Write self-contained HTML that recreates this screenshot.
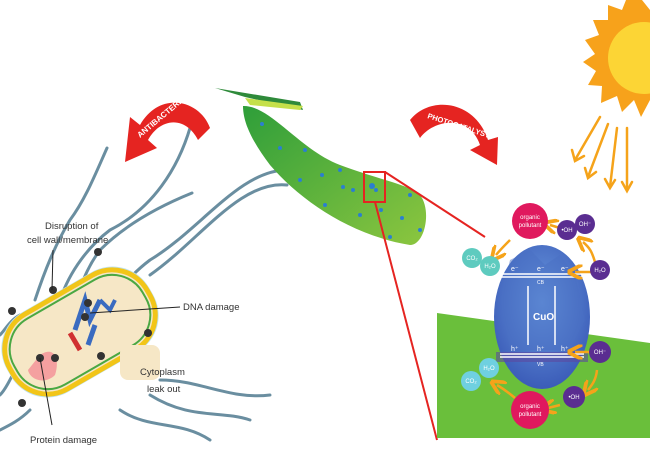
<!DOCTYPE html>
<html><head><meta charset="utf-8"><style>
html,body{margin:0;padding:0;background:#fff;}
svg{display:block;font-family:"Liberation Sans",sans-serif;}
</style></head><body>
<svg width="650" height="450" viewBox="0 0 650 450" xmlns="http://www.w3.org/2000/svg">
<defs>
<linearGradient id="fib" x1="0" y1="0" x2="1" y2="1">
<stop offset="0" stop-color="#2e9e3a"/><stop offset="1" stop-color="#8cc63f"/></linearGradient>
<radialGradient id="cuo" cx="0.5" cy="0.4" r="0.6">
<stop offset="0" stop-color="#6b9be0"/><stop offset="1" stop-color="#3b5cb8"/></radialGradient>
<marker id="oa" markerWidth="6" markerHeight="6" refX="3" refY="3" orient="auto"><path d="M0,0 L6,3 L0,6" fill="none" stroke="#f5a31a" stroke-width="1.5"/></marker>
</defs>
<!-- flagella -->
<g fill="none" stroke="#6a8ea0" stroke-width="3" stroke-linecap="round">
<path d="M107,148 C95,175 85,200 70,220 C55,245 45,270 35,300"/>
<path d="M193,117 C180,170 150,210 110,230 C90,245 70,270 60,300"/>
<path d="M192,193 C150,210 120,230 100,250 C85,270 80,290 75,300"/>
<path d="M287,170 C240,170 200,230 150,260 C130,275 120,290 110,300"/>
<path d="M287,185 C240,180 200,240 150,275"/>
<path d="M160,380 C200,380 230,400 270,395"/>
<path d="M150,395 C190,420 220,410 250,420"/>
<path d="M120,410 C150,430 180,420 210,440"/>
<path d="M30,410 C20,420 10,425 0,430"/>
<path d="M15,370 C10,380 5,390 0,395"/>
<path d="M20,315 C10,320 5,330 0,335"/>
</g>
<!-- bacterium -->
<g transform="translate(80,332) rotate(-30)">
<rect x="-82" y="-46" width="164" height="92" rx="42" fill="#bfe3f0"/>
<rect x="-79" y="-43" width="158" height="86" rx="40" fill="#f6e7c6" stroke="#f2c518" stroke-width="5"/>
<rect x="-74" y="-38" width="148" height="76" rx="35" fill="none" stroke="#4aa843" stroke-width="2"/>
</g>
<path d="M40,355 C55,345 60,360 55,375 C45,385 30,380 28,370 Z" fill="#f4a0a0"/>
<path d="M75,330 L85,300 L90,320 L100,300 M88,345 L95,325" stroke="#3a6bc0" stroke-width="5" fill="none"/>
<path d="M70,333 L80,350" stroke="#d03030" stroke-width="5"/>
<path d="M100,300 L110,310 L115,300" stroke="#3a6bc0" stroke-width="4" fill="none"/>
<rect x="120" y="345" width="40" height="35" rx="8" fill="#f6e7c6"/>
<g fill="#333">
<circle cx="53" cy="290" r="4"/><circle cx="88" cy="303" r="4"/><circle cx="85" cy="317" r="4"/><circle cx="40" cy="358" r="4"/><circle cx="55" cy="358" r="4"/><circle cx="101" cy="356" r="4"/><circle cx="98" cy="252" r="4"/><circle cx="12" cy="311" r="4"/><circle cx="148" cy="333" r="4"/><circle cx="22" cy="403" r="4"/>
</g>
<g stroke="#222" stroke-width="1" fill="none">
<line x1="53" y1="250" x2="52" y2="290"/><line x1="90" y1="313" x2="180" y2="307"/><line x1="40" y1="358" x2="52" y2="425"/>
</g>
<g font-size="9.5" fill="#333">
<text x="45" y="229">Disruption of</text>
<text x="27" y="243">cell wall/membrane</text>
<text x="183" y="310">DNA damage</text>
<text x="140" y="375">Cytoplasm</text>
<text x="147" y="392">leak out</text>
<text x="30" y="443">Protein damage</text>
</g>
<!-- antibacterial arrow -->
<path d="M210,128 C200,100 160,90 140,125 L130,117 L125,162 L157,148 L148,140 C160,118 185,115 198,140 Z" fill="#e52421"/>
<text font-size="8" font-weight="bold" fill="#fff" transform="translate(140,138) rotate(-40)">ANTIBACTERIAL</text>
<!-- fiber -->
<path d="M215,88 L300,102 L303,110 L245,97 Z" fill="#2e8a3a"/>
<path d="M245,98 L303,106 L300,110 L250,105 Z" fill="#c5e04a"/>
<path d="M243,106 C270,105 300,150 340,165 C380,180 410,185 420,195 C432,210 425,245 410,245 C350,235 300,200 270,165 C255,145 243,125 243,106 Z" fill="url(#fib)"/>
<g fill="#2b7fd0">
<circle cx="262" cy="124" r="2"/><circle cx="280" cy="148" r="2"/><circle cx="305" cy="150" r="2"/><circle cx="322" cy="175" r="2"/><circle cx="340" cy="170" r="2"/><circle cx="343" cy="187" r="2"/><circle cx="353" cy="190" r="2"/><circle cx="372" cy="186" r="3"/><circle cx="376" cy="190" r="2"/><circle cx="381" cy="210" r="2"/><circle cx="402" cy="218" r="2"/><circle cx="410" cy="195" r="2"/><circle cx="390" cy="237" r="2"/><circle cx="420" cy="230" r="2"/><circle cx="300" cy="180" r="2"/><circle cx="325" cy="205" r="2"/><circle cx="360" cy="215" r="2"/>
</g>
<rect x="364" y="172" width="21" height="30" fill="none" stroke="#e52421" stroke-width="2"/>
<line x1="385" y1="172" x2="485" y2="237" stroke="#e52421" stroke-width="2"/>
<line x1="375" y1="202" x2="437" y2="440" stroke="#e52421" stroke-width="2"/>
<!-- photocatalyst arrow -->
<path d="M410,120 C430,95 475,100 488,140 L498,137 L497,165 L470,150 L480,145 C470,115 435,118 420,138 Z" fill="#e52421"/>
<text font-size="7.5" font-weight="bold" fill="#fff" transform="translate(427,118) rotate(18)">PHOTOCATALYST</text>
<!-- sun -->
<polygon fill="#f7a21b" points="642,0 650,10 650,100 641,117 634,100 622,112 617,96 601,103 602,86 588,85 596,71 583,62 595,54 585,40 599,35 593,20 608,20 608,5 622,10 626,0"/>
<circle cx="644" cy="58" r="36" fill="#fcd535"/>
<g stroke="#f5a31a" stroke-width="2.5" fill="none" stroke-linecap="round">
<line x1="600" y1="117" x2="575" y2="160"/><path d="M572,150 L575,161 L584,156"/>
<line x1="608" y1="124" x2="588" y2="177"/><path d="M585,168 L588,178 L596,172"/>
<line x1="617" y1="128" x2="610" y2="187"/><path d="M605,179 L610,188 L615,180"/>
<line x1="627" y1="128" x2="627" y2="190"/><path d="M622,182 L627,191 L632,182"/>
</g>
<!-- green ground -->
<polygon points="437,313 650,343 650,438 437,438" fill="#6abf3b"/>
<!-- CuO -->
<ellipse cx="542" cy="317" rx="48" ry="72" fill="url(#cuo)"/>
<path d="M500,300 L510,260 L530,250 L545,265 L560,255 L575,275 L585,320 L570,350 L510,350 Z" fill="#4a6fc4" opacity="0.5"/>
<rect x="496" y="352" width="92" height="10" fill="#5b4aa0" opacity="0.6"/>
<g stroke="#fff" stroke-width="1.5">
<line x1="500" y1="274" x2="584" y2="274"/><line x1="500" y1="277" x2="584" y2="277"/>
<line x1="500" y1="354" x2="584" y2="354"/><line x1="500" y1="357" x2="584" y2="357"/>
<line x1="528" y1="345" x2="528" y2="286"/><line x1="555" y1="345" x2="555" y2="286"/>
</g>
<g fill="#fff" font-size="7">
<text x="511" y="271">e⁻</text><text x="537" y="271">e⁻</text><text x="561" y="271">e⁻</text>
<text x="537" y="284" font-size="5">CB</text>
<text x="511" y="351">h⁺</text><text x="537" y="351">h⁺</text><text x="561" y="351">h⁺</text>
<text x="537" y="366" font-size="5">VB</text>
<text x="533" y="320" font-size="10" font-weight="bold">CuO</text>
</g>
<!-- orange arrows -->
<g stroke="#f5a31a" stroke-width="2.5" fill="none" marker-end="url(#oa)">
<path d="M560,228 L550,225"/>
<path d="M595,262 C592,252 590,248 583,242"/>
<path d="M510,240 C505,245 500,250 496,255"/>
<path d="M595,272 L575,272"/>
<path d="M595,352 L575,352"/>
<path d="M597,370 C596,380 592,385 588,390"/>
<path d="M560,405 L548,408"/>
<path d="M515,398 C508,392 502,388 497,385"/>
</g>
<!-- circles -->
<g font-size="6" fill="#fff" text-anchor="middle">
<circle cx="530" cy="221" r="18" fill="#e0195e"/><text x="530" y="219">organic</text><text x="530" y="227">pollutant</text>
<circle cx="530" cy="410" r="19" fill="#e0195e"/><text x="530" y="408">organic</text><text x="530" y="416">pollutant</text>
<circle cx="567" cy="230" r="10" fill="#5a2d91"/><text x="567" y="232">•OH</text>
<circle cx="585" cy="224" r="10" fill="#5a2d91"/><text x="585" y="226">OH⁻</text>
<circle cx="600" cy="270" r="10" fill="#5a2d91"/><text x="600" y="272">H₂O</text>
<circle cx="600" cy="352" r="11" fill="#5a2d91"/><text x="600" y="354">OH⁻</text>
<circle cx="574" cy="397" r="11" fill="#5a2d91"/><text x="574" y="399">•OH</text>
<circle cx="472" cy="258" r="10" fill="#5ecbbf"/><text x="472" y="260">CO₂</text>
<circle cx="490" cy="266" r="10" fill="#5ecbbf"/><text x="490" y="268">H₂O</text>
<circle cx="471" cy="381" r="10" fill="#6fd0e0"/><text x="471" y="383">CO₂</text>
<circle cx="489" cy="368" r="10" fill="#6fd0e0"/><text x="489" y="370">H₂O</text>
</g>
</svg>
</body></html>
